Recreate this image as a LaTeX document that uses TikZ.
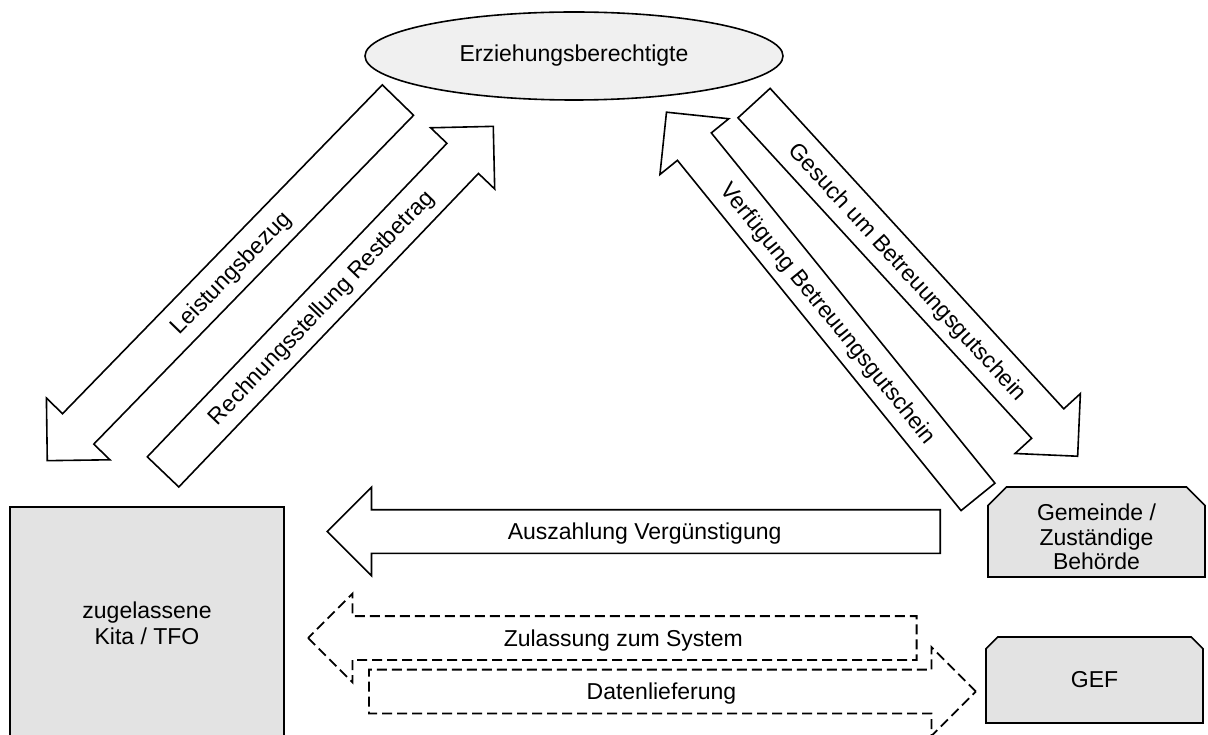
\documentclass[tikz,border=0pt]{standalone}
\usepackage{fontspec}
\setmainfont{Liberation Sans}
\usetikzlibrary{shapes.geometric}
\usetikzlibrary{shapes.arrows}
\usetikzlibrary{shapes.misc}
\definecolor{boxgray}{RGB}{227,227,227}
\definecolor{ellgray}{RGB}{240,240,240}

\begin{document}
\begin{tikzpicture}[x=1pt,y=1pt,yscale=-1,xscale=1,
  font=\fontsize{23}{26}\selectfont,
  blockarrow/.style={draw,line width=1.6pt,single arrow,single arrow head extend=22.5pt,inner xsep=0pt,inner ysep=0pt,text height=29pt,text depth=13pt,anchor=tail},
  dasharrow/.style={blockarrow,line width=1.8pt,dash pattern=on 10pt off 5pt},
  stelle/.style={draw,line width=1.6pt,fill=boxgray,chamfered rectangle,chamfered rectangle corners={north west,north east},chamfered rectangle xsep=15pt,align=center,inner sep=0pt,minimum width=217pt}
]
\useasboundingbox (0,0) rectangle (1208,735);

%Shape: Ellipse [Erziehungsberechtigte]
\node [draw,line width=1.6pt,fill=ellgray,ellipse,inner sep=0pt,minimum width=418pt,minimum height=88pt] (eltern) at (574,56) {Erziehungsberechtigte};
%Shape: Rectangle [Kita]
\node [draw,line width=1.6pt,fill=boxgray,align=center,inner sep=0pt,minimum width=274pt,minimum height=233pt] (kita) at (147,623.5) {zugelassene\\Kita / TFO};
%Shape: Chamfered [Gemeinde]
\node [stelle,minimum height=90pt,font=\fontsize{23}{24.5}\selectfont] (gemeinde) at (1096.5,532) {\rule{0pt}{27pt}Gemeinde /\\Zuständige\\Behörde};
%Shape: Chamfered [GEF]
\node [stelle,minimum height=86pt] (gef) at (1094.5,680) {GEF};

%Block Arrows
\coordinate (leist tail) at (398.5,99.5);
\coordinate (rech tail) at (162.5,472.5);
\coordinate (gesuch tail) at (753.5,102.5);
\coordinate (verf tail) at (978.5,497.5);
\coordinate (ausz tail) at (941,531.5);
\coordinate (zul tail) at (917.5,638);
\coordinate (daten tail) at (368,691.5);

\node [blockarrow,rotate=45.8,shape border rotate=180,minimum height=503pt] (leist) at (leist tail) {Leistungsbezug};
\node [blockarrow,rotate=46.3,minimum height=478pt] (rech) at (rech tail) {Rechnungsstellung Restbetrag};
\node [blockarrow,rotate=-47.5,minimum height=479pt] (gesuch) at (gesuch tail) {Gesuch um Betreuungsgutschein};
\node [blockarrow,rotate=-51,shape border rotate=180,minimum height=495pt] (verf) at (verf tail) {Verfügung Betreuungsgutschein};
\node [blockarrow,shape border rotate=180,minimum height=613pt] (ausz) at (ausz tail) {Auszahlung Vergünstigung};

%Dashed Arrows
\node [dasharrow,shape border rotate=180,minimum height=608.5pt] (zul) at (zul tail) {Zulassung zum System};
\node [dasharrow,minimum height=607pt] (daten) at (daten tail) {Datenlieferung};

\end{tikzpicture}
\end{document}
